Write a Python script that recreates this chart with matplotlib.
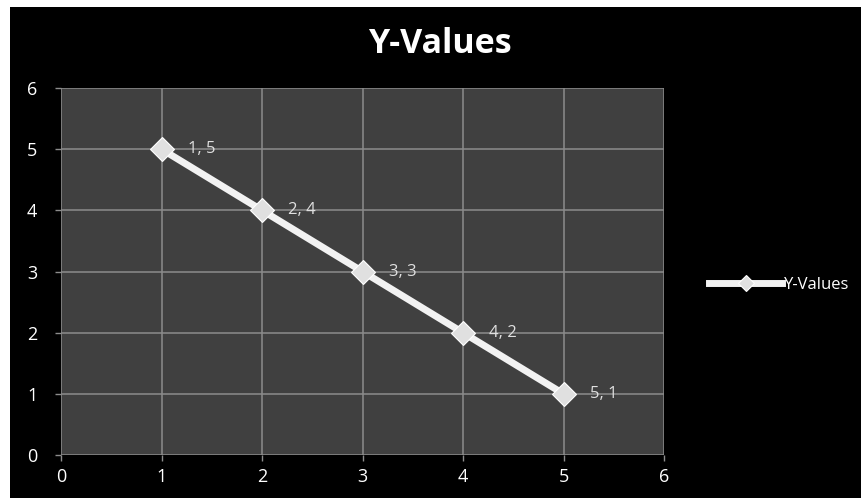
import matplotlib
matplotlib.use("Agg")
import matplotlib.pyplot as plt
from matplotlib.patches import Rectangle

# data
x_vals = [1, 2, 3, 4, 5]
y_vals = [5, 4, 3, 2, 1]
series_name = "Y-Values"
ticks = [0, 1, 2, 3, 4, 5, 6]

plt.rcParams['font.family'] = ['Open Sans', 'DejaVu Sans']

fig = plt.figure(figsize=(8.61, 4.98), dpi=100, facecolor='white')
# black chart area with thin white margin at top and left
fig.patches.append(Rectangle((10 / 861, 0), 1 - 10 / 861, 1 - 7 / 498,
                             transform=fig.transFigure, facecolor='black',
                             edgecolor='none', zorder=-10))

ax = fig.add_axes([61 / 861, 1 - 455 / 498, (664 - 61) / 861, (455 - 88) / 498])
ax.set_facecolor('#404040')
ax.set_xlim(0, 6)
ax.set_ylim(0, 6)
ax.set_xticks(ticks)
ax.set_yticks(ticks)
ax.grid(True, color='#8c8c8c', linewidth=1.1)
ax.set_axisbelow(True)
for s in ax.spines.values():
    s.set_visible(False)
ax.tick_params(colors='#8c8c8c', labelcolor='white', labelsize=13, length=4, width=1)
ax.tick_params(axis='x', pad=5)
ax.tick_params(axis='y', pad=13)

ax.plot(x_vals, y_vals, color='#f2f2f2', linewidth=5, marker='D', markersize=12,
        markerfacecolor='#e0e0e0', markeredgecolor='#ffffff', markeredgewidth=0.8,
        label=series_name, zorder=3)

for x, y in zip(x_vals, y_vals):
    ax.annotate(f"{x}, {y}", (x, y), xytext=(19, 0), textcoords='offset points',
                color='#e0e0e0', fontsize=12, va='center', ha='left')

fig.text(440 / 861, 1 - 44 / 498, "Y-Values", color='white', fontsize=24.5,
         fontweight='bold', ha='center', va='center')

leg = fig.legend(loc='center left', bbox_to_anchor=(694 / 861, 1 - 285 / 498),
                 frameon=False, fontsize=12, handlelength=4.4, handletextpad=0.1,
                 markerscale=0.65)
for t in leg.get_texts():
    t.set_color('white')

fig.savefig("out.png", dpi=100, facecolor=fig.get_facecolor())
